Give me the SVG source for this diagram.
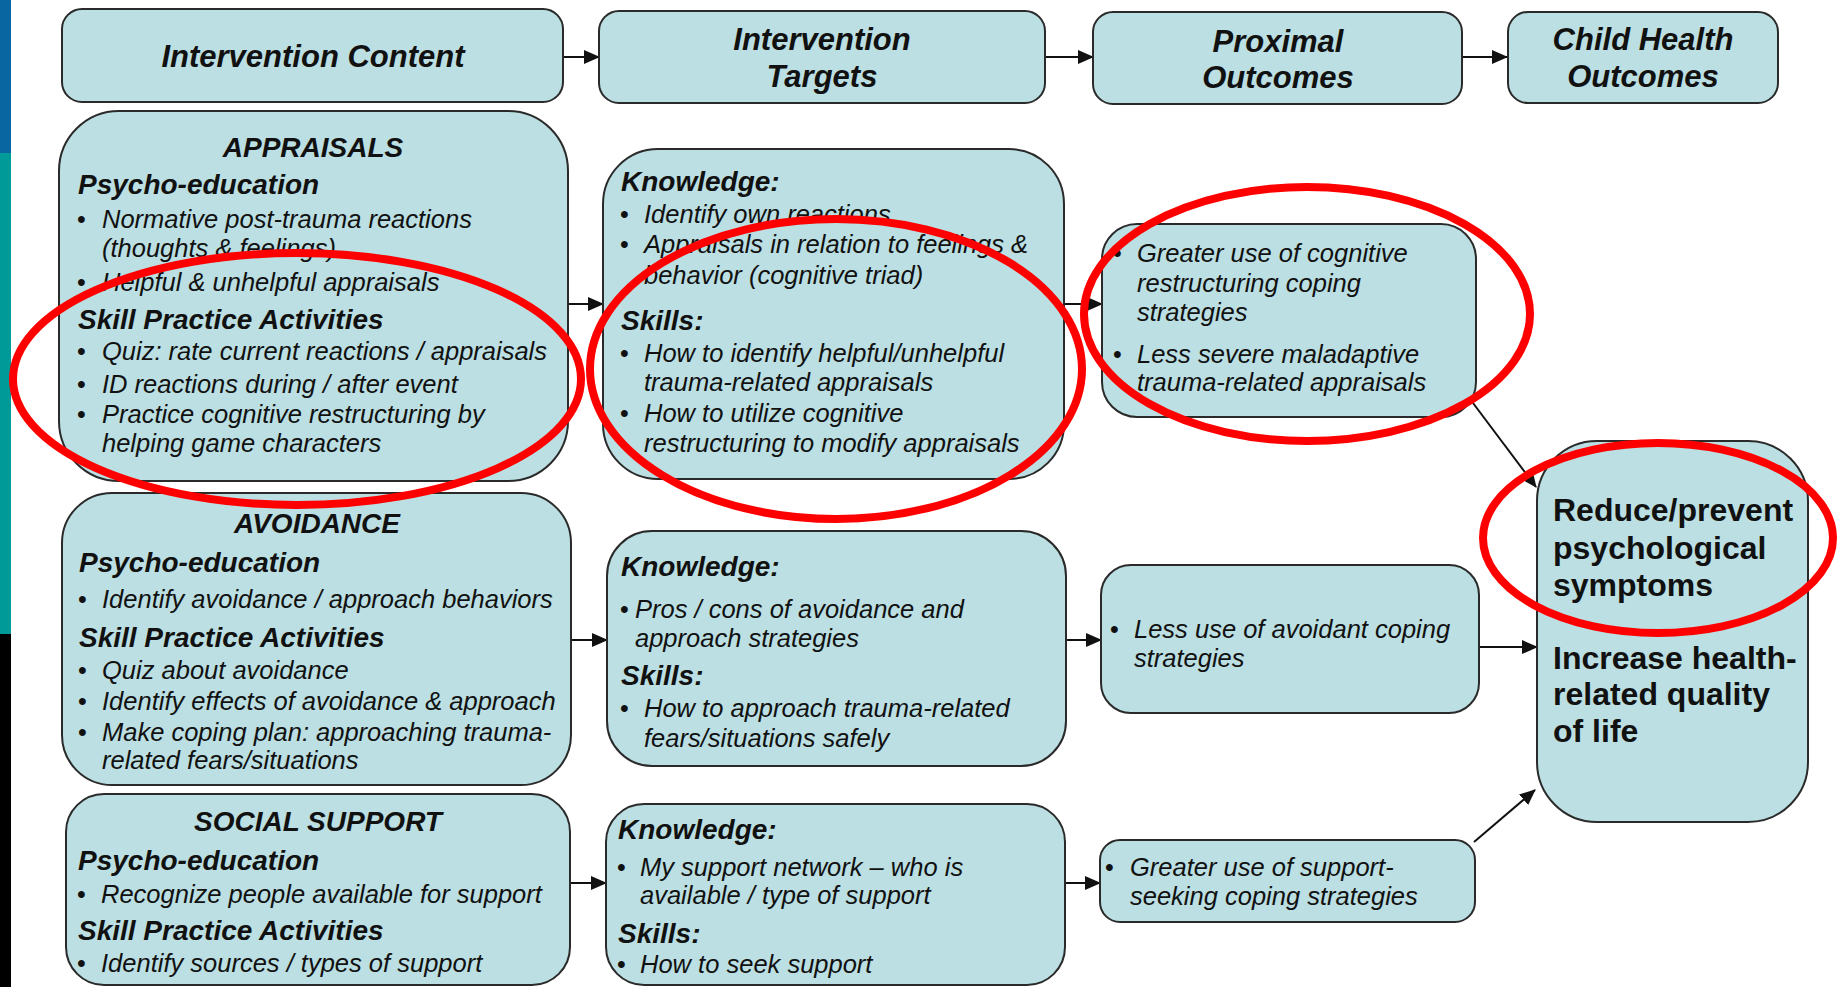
<svg xmlns="http://www.w3.org/2000/svg" width="1839" height="987" viewBox="0 0 1839 987">
<style>
.box{fill:#bbdfe2;stroke:#2a2a2a;stroke-width:2}
.hd{font-family:"Liberation Sans",Arial,sans-serif;font-size:31px;font-weight:bold;font-style:italic;fill:#111;text-anchor:middle}
.ttl{font-family:"Liberation Sans",Arial,sans-serif;font-size:28px;font-weight:bold;font-style:italic;fill:#111;text-anchor:middle}
.sh{font-family:"Liberation Sans",Arial,sans-serif;font-size:28px;font-weight:bold;font-style:italic;fill:#111}
.t{font-family:"Liberation Sans",Arial,sans-serif;font-size:25.5px;font-style:italic;fill:#111}
.b{font-family:"Liberation Sans",Arial,sans-serif;font-size:25px;fill:#111}
.big{font-family:"Liberation Sans",Arial,sans-serif;font-size:32px;font-weight:bold;fill:#111}
.con{fill:none;stroke:#111;stroke-width:2;marker-end:url(#ah)}
.red{fill:none;stroke:#ff0000;stroke-width:8}
</style>
<defs>
<marker id="ah" markerUnits="userSpaceOnUse" markerWidth="16" markerHeight="14" refX="15" refY="7" orient="auto">
<path d="M0,0 L16,7 L0,14 z" fill="#111"/>
</marker>
</defs>
<rect width="1839" height="987" fill="#ffffff"/>
<g id="sidebar">
<rect x="0" y="0" width="11" height="153" fill="#0a66a0"/>
<rect x="0" y="153" width="11" height="481" fill="#009a98"/>
<rect x="0" y="634" width="11" height="353" fill="#000000"/>
</g>
<g id="connectors">
<path class="con" d="M563,57 H599"/>
<path class="con" d="M1045,57 H1093"/>
<path class="con" d="M1462,57 H1507"/>
<path class="con" d="M568,304 H603"/>
<path class="con" d="M1064,304 H1102"/>
<path class="con" d="M571,640 H607"/>
<path class="con" d="M1066,640 H1101"/>
<path class="con" d="M1479,647 H1537"/>
<path class="con" d="M570,883 H606"/>
<path class="con" d="M1065,883 H1100"/>
<path class="con" d="M1474,842 L1535,790"/>
<path class="con" d="M1473,403 L1536,487"/>
</g>
<g id="h-content"><rect class="box" x="62" y="9" width="501" height="93" rx="20"/><text class="hd" x="313" y="67">Intervention Content</text></g>
<g id="h-targets"><rect class="box" x="599" y="11" width="446" height="92" rx="20"/><text class="hd" x="822" y="50">Intervention</text><text class="hd" x="822" y="87">Targets</text></g>
<g id="h-proximal"><rect class="box" x="1093" y="12" width="369" height="92" rx="20"/><text class="hd" x="1278" y="52">Proximal</text><text class="hd" x="1278" y="88">Outcomes</text></g>
<g id="h-child"><rect class="box" x="1508" y="12" width="270" height="91" rx="20"/><text class="hd" x="1643" y="50">Child Health</text><text class="hd" x="1643" y="87">Outcomes</text></g>

<g id="c-appraisals">
<rect class="box" x="59" y="111" width="509" height="370" rx="60"/>
<text class="ttl" x="313" y="157">APPRAISALS</text>
<text class="sh" x="78" y="194">Psycho-education</text>
<text class="b" x="77" y="228">•</text><text class="t" x="102" y="228">Normative post-trauma reactions</text>
<text class="t" x="102" y="257">(thoughts &amp; feelings)</text>
<text class="b" x="77" y="291">•</text><text class="t" x="102" y="291">Helpful &amp; unhelpful appraisals</text>
<text class="sh" x="78" y="329">Skill Practice Activities</text>
<text class="b" x="77" y="360">•</text><text class="t" x="102" y="360">Quiz: rate current reactions / appraisals</text>
<text class="b" x="77" y="393">•</text><text class="t" x="102" y="393">ID reactions during / after event</text>
<text class="b" x="77" y="423">•</text><text class="t" x="102" y="423">Practice cognitive restructuring by</text>
<text class="t" x="102" y="452">helping game characters</text>
</g>
<g id="t-appraisals">
<rect class="box" x="603" y="149" width="461" height="330" rx="55"/>
<text class="sh" x="621" y="191">Knowledge:</text>
<text class="b" x="620" y="223">•</text><text class="t" x="644" y="223">Identify own reactions</text>
<text class="b" x="620" y="253">•</text><text class="t" x="644" y="253">Appraisals in relation to feelings &amp;</text>
<text class="t" x="644" y="284">behavior (cognitive triad)</text>
<text class="sh" x="621" y="330">Skills:</text>
<text class="b" x="620" y="362">•</text><text class="t" x="644" y="362">How to identify helpful/unhelpful</text>
<text class="t" x="644" y="391">trauma-related appraisals</text>
<text class="b" x="620" y="422">•</text><text class="t" x="644" y="422">How to utilize cognitive</text>
<text class="t" x="644" y="452">restructuring to modify appraisals</text>
</g>
<g id="p-appraisals">
<rect class="box" x="1102" y="224" width="374" height="193" rx="35"/>
<text class="b" x="1113" y="262">•</text><text class="t" x="1137" y="262">Greater use of cognitive</text>
<text class="t" x="1137" y="292">restructuring coping</text>
<text class="t" x="1137" y="321">strategies</text>
<text class="b" x="1113" y="363">•</text><text class="t" x="1137" y="363">Less severe maladaptive</text>
<text class="t" x="1137" y="391">trauma-related appraisals</text>
</g>

<g id="c-avoidance">
<rect class="box" x="62" y="493" width="509" height="292" rx="50"/>
<text class="ttl" x="317" y="533">AVOIDANCE</text>
<text class="sh" x="79" y="572">Psycho-education</text>
<text class="b" x="78" y="608">•</text><text class="t" x="102" y="608">Identify avoidance / approach behaviors</text>
<text class="sh" x="79" y="647">Skill Practice Activities</text>
<text class="b" x="78" y="679">•</text><text class="t" x="102" y="679">Quiz about avoidance</text>
<text class="b" x="78" y="710">•</text><text class="t" x="102" y="710">Identify effects of avoidance &amp; approach</text>
<text class="b" x="78" y="741">•</text><text class="t" x="102" y="741">Make coping plan: approaching trauma-</text>
<text class="t" x="102" y="769">related fears/situations</text>
</g>
<g id="t-avoidance">
<rect class="box" x="607" y="531" width="459" height="235" rx="45"/>
<text class="sh" x="621" y="576">Knowledge:</text>
<text class="b" x="620" y="618">•</text><text class="t" x="635" y="618">Pros / cons of avoidance and</text>
<text class="t" x="635" y="647">approach strategies</text>
<text class="sh" x="621" y="685">Skills:</text>
<text class="b" x="620" y="717">•</text><text class="t" x="644" y="717">How to approach trauma-related</text>
<text class="t" x="644" y="747">fears/situations safely</text>
</g>
<g id="p-avoidance">
<rect class="box" x="1101" y="565" width="378" height="148" rx="30"/>
<text class="b" x="1110" y="638">•</text><text class="t" x="1134" y="638">Less use of avoidant coping</text>
<text class="t" x="1134" y="667">strategies</text>
</g>

<g id="c-social">
<rect class="box" x="66" y="794" width="504" height="191" rx="38"/>
<text class="ttl" x="318" y="831">SOCIAL SUPPORT</text>
<text class="sh" x="78" y="870">Psycho-education</text>
<text class="b" x="77" y="903">•</text><text class="t" x="101" y="903">Recognize people available for support</text>
<text class="sh" x="78" y="940">Skill Practice Activities</text>
<text class="b" x="77" y="972">•</text><text class="t" x="101" y="972">Identify sources / types of support</text>
</g>
<g id="t-social">
<rect class="box" x="606" y="804" width="459" height="181" rx="38"/>
<text class="sh" x="618" y="839">Knowledge:</text>
<text class="b" x="617" y="876">•</text><text class="t" x="640" y="876">My support network – who is</text>
<text class="t" x="640" y="904">available / type of support</text>
<text class="sh" x="618" y="943">Skills:</text>
<text class="b" x="617" y="973">•</text><text class="t" x="640" y="973">How to seek support</text>
</g>
<g id="p-social">
<rect class="box" x="1100" y="840" width="375" height="82" rx="20"/>
<text class="b" x="1105" y="876">•</text><text class="t" x="1130" y="876">Greater use of support-</text>
<text class="t" x="1130" y="905">seeking coping strategies</text>
</g>

<g id="child-outcomes">
<rect class="box" x="1537" y="441" width="271" height="381" rx="60"/>
<text class="big" x="1553" y="521">Reduce/prevent</text>
<text class="big" x="1553" y="559">psychological</text>
<text class="big" x="1553" y="596">symptoms</text>
<text class="big" x="1553" y="669">Increase health-</text>
<text class="big" x="1553" y="705">related quality</text>
<text class="big" x="1553" y="742">of life</text>
</g>

<g id="highlights">
<ellipse class="red" cx="297" cy="379" rx="284" ry="126"/>
<ellipse class="red" cx="836" cy="369" rx="246" ry="150"/>
<ellipse class="red" cx="1307" cy="314" rx="223" ry="127"/>
<ellipse class="red" cx="1658" cy="538" rx="175" ry="95"/>
</g>
</svg>
